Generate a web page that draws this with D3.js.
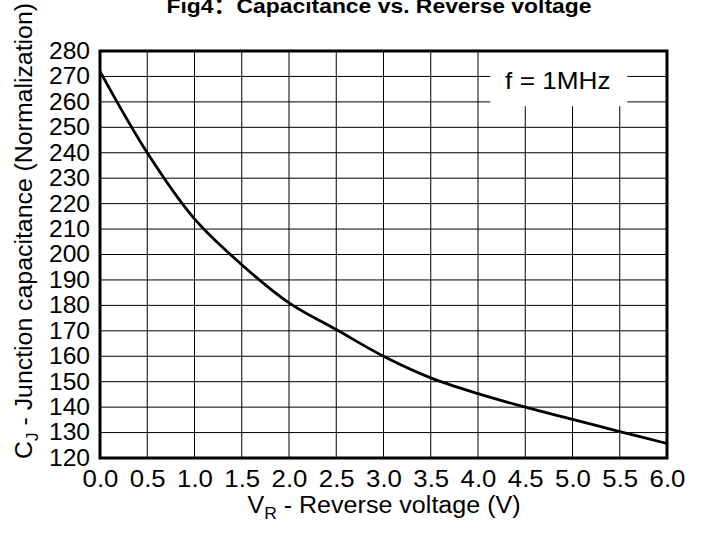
<!DOCTYPE html>
<html>
<head>
<meta charset="utf-8">
<script src="https://cdn.jsdelivr.net/npm/d3@7/dist/d3.min.js"></script>
<style>
  html, body { margin: 0; padding: 0; background: #fff; }
  svg { display: block; font-family: "Liberation Sans", Arial, sans-serif; }
</style>
</head>
<body>
<svg id="chart" width="704" height="535"></svg>
<script>
// ---- data ----
const voltage = [0.0, 0.5, 1.0, 1.5, 2.0, 2.5, 3.0, 3.5, 4.0, 4.5, 5.0, 5.5, 6.0];
const capacitance = [272, 240, 214, 196, 181, 170.5, 160, 151.5, 145.3, 140, 135.2, 130.4, 125.7];
const xTicks = [0.0, 0.5, 1.0, 1.5, 2.0, 2.5, 3.0, 3.5, 4.0, 4.5, 5.0, 5.5, 6.0];
const yTicks = [120, 130, 140, 150, 160, 170, 180, 190, 200, 210, 220, 230, 240, 250, 260, 270, 280];
const titleParts = ["Fig4", "：", "Capacitance vs. Reverse voltage"];
const legendText = "f = 1MHz";

const STRETCH = 1.09;
function stretch(sel, k) {
  sel.each(function () {
    const len = this.getComputedTextLength();
    this.setAttribute("textLength", len * k);
    this.setAttribute("lengthAdjust", "spacingAndGlyphs");
  });
}

// ---- layout ----
const svg = d3.select("#chart");
const L = 100, R = 667, T = 51, B = 458;

const x = d3.scaleLinear().domain([0, 6]).range([L, R]);
const y = d3.scaleLinear().domain([120, 280]).range([B, T]);

// grid
const grid = svg.append("g");
grid.selectAll("line.v").data(xTicks).join("line")
  .attr("x1", d => x(d)).attr("x2", d => x(d))
  .attr("y1", T).attr("y2", B)
  .attr("stroke", "#000").attr("stroke-width", 1);
grid.selectAll("line.h").data(yTicks).join("line")
  .attr("y1", d => y(d)).attr("y2", d => y(d))
  .attr("x1", L).attr("x2", R)
  .attr("stroke", "#000").attr("stroke-width", 1);

// legend box (white background covering grid)
const lgX0 = x(4.13), lgX1 = x(5.58), lgY0 = y(280), lgY1 = y(258.3);
svg.append("rect")
  .attr("x", lgX0).attr("y", lgY0)
  .attr("width", lgX1 - lgX0).attr("height", lgY1 - lgY0)
  .attr("fill", "#fff");
const lg = svg.append("text")
  .attr("x", (lgX0 + lgX1) / 2 - 1).attr("y", 89)
  .attr("text-anchor", "middle")
  .attr("font-size", 24)
  .text(legendText);
stretch(lg, STRETCH);

// curve
const line = d3.line()
  .x((d, i) => x(voltage[i]))
  .y(d => y(d))
  .curve(d3.curveCatmullRom.alpha(0.5));
svg.append("path")
  .datum(capacitance)
  .attr("d", line)
  .attr("fill", "none")
  .attr("stroke", "#000")
  .attr("stroke-width", 2.8);

// frame
svg.append("rect")
  .attr("x", L).attr("y", T)
  .attr("width", R - L).attr("height", B - T)
  .attr("fill", "none").attr("stroke", "#000").attr("stroke-width", 3);

// axes (labels only)
const xAxis = d3.axisBottom(x).tickValues(xTicks).tickFormat(d3.format(".1f")).tickSize(0).tickPadding(13);
const gx = svg.append("g").attr("transform", `translate(0,${B})`).call(xAxis);
gx.select(".domain").remove();
gx.selectAll("text").attr("font-size", 23).attr("font-family", "Liberation Sans, Arial, sans-serif").attr("fill", "#000");
stretch(gx.selectAll("text"), 1.12);

const yAxis = d3.axisLeft(y).tickValues(yTicks).tickFormat(d3.format("d")).tickSize(0).tickPadding(10);
const gy = svg.append("g").attr("transform", `translate(${L},0)`).call(yAxis);
gy.select(".domain").remove();
gy.selectAll("text").attr("font-size", 23).attr("font-family", "Liberation Sans, Arial, sans-serif").attr("fill", "#000");
stretch(gy.selectAll("text"), 1.07);

// title
const tt = svg.append("text")
  .attr("x", 379).attr("y", 13)
  .attr("text-anchor", "middle")
  .attr("font-size", 21).attr("font-weight", "bold");
tt.append("tspan").text(titleParts[0]);
tt.append("tspan").attr("font-family", "Noto Sans CJK SC").text(titleParts[1]);
tt.append("tspan").text(titleParts[2]);
stretch(tt, STRETCH);

// x axis label
const xl = svg.append("text")
  .attr("x", 384).attr("y", 513)
  .attr("text-anchor", "middle")
  .attr("font-size", 23);
xl.append("tspan").text("V");
xl.append("tspan").attr("font-size", 16).attr("dy", 6).text("R");
xl.append("tspan").attr("dy", -6).text(" - Reverse voltage (V)");
stretch(xl, STRETCH);

// y axis label
const yl = svg.append("text")
  .attr("transform", "translate(32,231) rotate(-90)")
  .attr("text-anchor", "middle")
  .attr("font-size", 23);
yl.append("tspan").text("C");
yl.append("tspan").attr("font-size", 16).attr("dy", 6).text("J");
yl.append("tspan").attr("dy", -6).text(" - Junction capacitance (Normalization)");
stretch(yl, 1.08);
</script>
</body>
</html>
